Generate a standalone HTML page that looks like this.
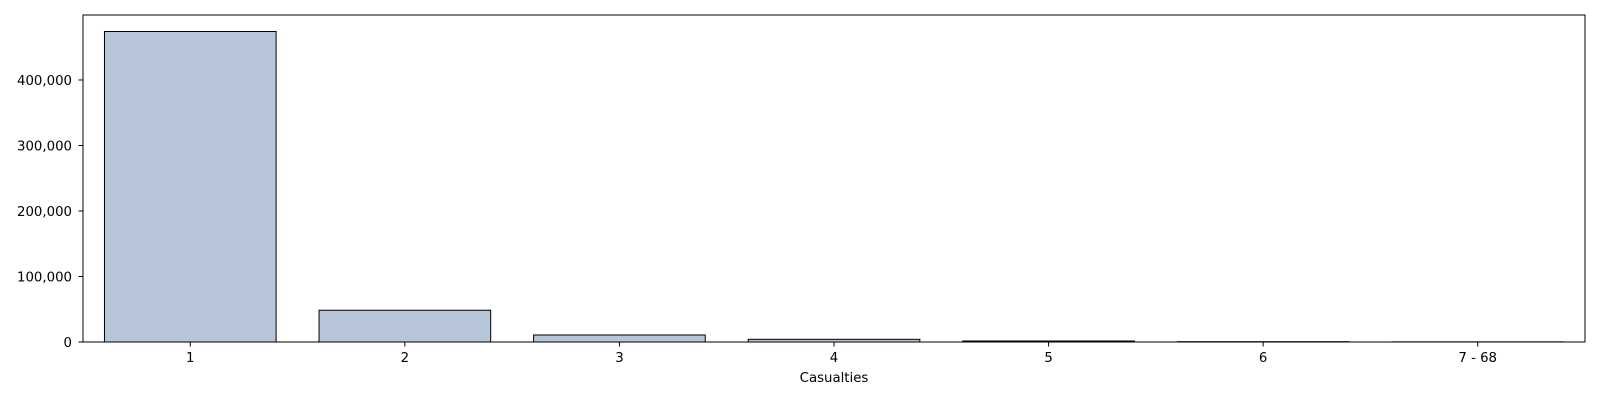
<!DOCTYPE html>
<html><head><meta charset="utf-8"><style>
html,body{margin:0;padding:0;background:#fff;overflow:hidden;width:1600px;height:400px;}
svg{display:block;}
</style></head><body>
<svg id="chart" width="1600" height="400" xmlns="http://www.w3.org/2000/svg" font-family="DejaVu Sans, Liberation Sans, sans-serif" font-size="13.3"></svg>
<script>
const categories = ["1","2","3","4","5","6","7 - 68"];
const counts = [474000, 48500, 10700, 4100, 1500, 500, 250];
const yTicks = [0, 100000, 200000, 300000, 400000];
const yTickLabels = ["0","100,000","200,000","300,000","400,000"];

const svg = document.getElementById('chart');
const NS = 'http://www.w3.org/2000/svg';
const L = 83, R = 1585, T = 15, B = 342;
const yMax = 499200;
const step = (R - L) / categories.length;
function xScale(i){ return L + step * (i + 0.5); }
function yScale(v){ return B - (v / yMax) * (B - T); }
function mk(tag, attrs){ const e = document.createElementNS(NS, tag); for (const k in attrs) e.setAttribute(k, attrs[k]); svg.appendChild(e); return e; }

categories.forEach((c, i) => {
  const w = step * 0.8;
  const r = mk('rect', {x: xScale(i) - w/2, y: yScale(counts[i]), width: w, height: B - yScale(counts[i]), fill: '#b7c6d8', stroke: '#000', 'stroke-width': 1});
  
  
  const tk = mk('line', {x1: xScale(i), x2: xScale(i), y1: B, y2: B + 4.5, stroke: '#000'});
  
  
  const t = mk('text', {x: xScale(i), y: B + 20, 'text-anchor': 'middle', fill: '#000'});
  t.textContent = c;
  
  
});
yTicks.forEach((v, i) => {
  const tk = mk('line', {x1: L - 4.5, x2: L, y1: yScale(v), y2: yScale(v), stroke: '#000'});
  
  
  const t = mk('text', {x: L - 11, y: yScale(v) + 5, 'text-anchor': 'end', fill: '#000'});
  t.textContent = yTickLabels[i];
  
  
});
const frame = mk('rect', {x: L, y: T, width: R - L, height: B - T, fill: 'none', stroke: '#000', 'stroke-width': 1});


const xt = mk('text', {x: (L + R) / 2, y: 382, 'text-anchor': 'middle', fill: '#000'});
xt.textContent = 'Casualties';


</script>
</body></html>
